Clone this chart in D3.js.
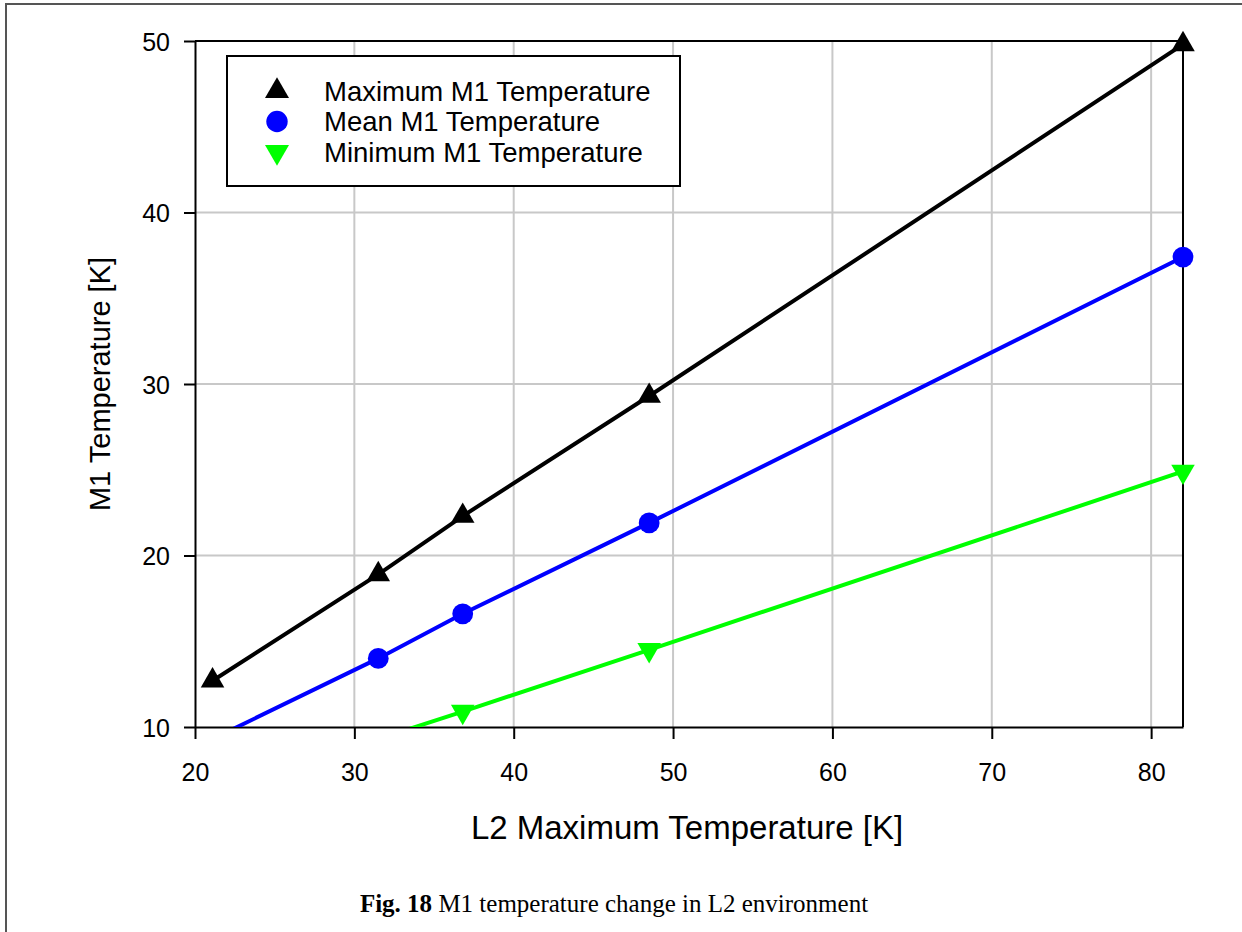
<!DOCTYPE html>
<html>
<head>
<meta charset="utf-8">
<script src="https://cdn.jsdelivr.net/npm/d3@7"></script>
<style>
  body { margin: 0; background: #fff; }
  svg { display: block; font-family: "Liberation Sans", Arial, sans-serif; }
</style>
</head>
<body>
<div id="chart-area"></div>
<script>
// L2 maximum temperature (x) and M1 temperatures (y)
const l2Temps = [21.1, 31.5, 36.8, 48.5, 82];
const maxM1 = [12.7, 18.9, 22.3, 29.3, 49.8];
const meanM1 = [9.3, 14.0, 16.6, 21.9, 37.4];
const minM1 = [6.1, 9.3, 10.9, 14.5, 24.9];

const xTicks = [20, 30, 40, 50, 60, 70, 80];
const yTicks = [10, 20, 30, 40, 50];
const legendLabels = ["Maximum M1 Temperature", "Mean M1 Temperature", "Minimum M1 Temperature"];

const width = 1242, height = 932;
const plot = { left: 195, right: 1183, top: 41, bottom: 727 };

const svg = d3.select("#chart-area")
    .append("svg")
    .attr("width", width)
    .attr("height", height);

// page frame
svg.append("path")
    .attr("d", `M6,${height} L6,4 L${width},4`)
    .attr("fill", "none")
    .attr("stroke", "#555")
    .attr("stroke-width", 2);

const x = d3.scaleLinear().domain([20, 82]).range([plot.left, plot.right]);
const y = d3.scaleLinear().domain([10, 50]).range([plot.bottom, plot.top]);

// grid
svg.append("g").selectAll("line")
    .data(xTicks.filter(d => d > 20))
    .join("line")
    .attr("x1", d => x(d)).attr("x2", d => x(d))
    .attr("y1", plot.top).attr("y2", plot.bottom)
    .attr("stroke", "#c8c8c8").attr("stroke-width", 2);

svg.append("g").selectAll("line")
    .data(yTicks.filter(d => d > 10 && d < 50))
    .join("line")
    .attr("x1", plot.left).attr("x2", plot.right)
    .attr("y1", d => y(d)).attr("y2", d => y(d))
    .attr("stroke", "#c8c8c8").attr("stroke-width", 2);

// axes
const xAxis = svg.append("g")
    .attr("transform", `translate(0,${plot.bottom})`)
    .call(d3.axisBottom(x).tickValues(xTicks).tickSize(12).tickPadding(24).tickSizeOuter(0));
const yAxis = svg.append("g")
    .attr("transform", `translate(${plot.left},0)`)
    .call(d3.axisLeft(y).tickValues(yTicks).tickSize(11).tickPadding(14).tickSizeOuter(0));

[xAxis, yAxis].forEach(a => {
    a.select(".domain").attr("stroke", "#000").attr("stroke-width", 2);
    a.selectAll(".tick line").attr("stroke", "#000").attr("stroke-width", 2);
    a.selectAll(".tick text")
        .attr("font-size", "25px")
        .attr("fill", "#000")
        .attr("font-family", "Liberation Sans, Arial, sans-serif");
});
yAxis.selectAll(".tick text").attr("dy", "0.36em");

// top and right frame of plot
svg.append("path")
    .attr("d", `M${plot.left},${plot.top} L${plot.right},${plot.top} L${plot.right},${plot.bottom}`)
    .attr("fill", "none")
    .attr("stroke", "#000")
    .attr("stroke-width", 2);

// clip for the lines
svg.append("clipPath").attr("id", "plot-clip")
    .append("rect")
    .attr("x", plot.left).attr("y", plot.top)
    .attr("width", plot.right - plot.left)
    .attr("height", plot.bottom - plot.top);

const series = [
    { name: legendLabels[0], values: maxM1, color: "#000000", symbol: d3.symbolTriangle, rotate: 0 },
    { name: legendLabels[1], values: meanM1, color: "#0000ff", symbol: d3.symbolCircle, rotate: 0 },
    { name: legendLabels[2], values: minM1, color: "#00ff00", symbol: d3.symbolTriangle, rotate: 180 }
];

const line = d3.line()
    .x(d => x(d[0]))
    .y(d => y(d[1]));

series.forEach(s => {
    const pts = l2Temps.map((t, i) => [t, s.values[i]]);
    svg.append("path")
        .datum(pts)
        .attr("clip-path", "url(#plot-clip)")
        .attr("d", line)
        .attr("fill", "none")
        .attr("stroke", s.color)
        .attr("stroke-width", 4);

    const sym = d3.symbol().type(s.symbol).size(s.symbol === d3.symbolCircle ? 340 : 240);
    svg.append("g").selectAll("path")
        .data(pts.filter(p => p[1] >= 10 && p[1] <= 50))
        .join("path")
        .attr("d", sym)
        .attr("fill", s.color)
        .attr("transform", p => `translate(${x(p[0])},${y(p[1])}) rotate(${s.rotate})`);
});

// legend
const legend = svg.append("g");
legend.append("rect")
    .attr("x", 227).attr("y", 56)
    .attr("width", 453).attr("height", 130)
    .attr("fill", "#fff")
    .attr("stroke", "#000")
    .attr("stroke-width", 2);

series.forEach((s, i) => {
    const ly = 91 + i * 30.5;
    const sym = d3.symbol().type(s.symbol).size(s.symbol === d3.symbolCircle ? 360 : 250);
    legend.append("path")
        .attr("d", sym)
        .attr("fill", s.color)
        .attr("transform", `translate(277,${ly}) rotate(${s.rotate})`);
    legend.append("text")
        .attr("x", 324).attr("y", ly)
        .attr("dy", "0.36em")
        .attr("font-size", "27.5px")
        .text(s.name);
});

// axis titles
svg.append("text")
    .attr("x", 687)
    .attr("y", 839)
    .attr("text-anchor", "middle")
    .attr("font-size", "33px")
    .text("L2 Maximum Temperature [K]");

svg.append("text")
    .attr("transform", `translate(110,${(plot.top + plot.bottom) / 2}) rotate(-90)`)
    .attr("text-anchor", "middle")
    .attr("font-size", "29px")
    .text("M1 Temperature [K]");

// caption
const cap = svg.append("text")
    .attr("x", 614)
    .attr("y", 912)
    .attr("text-anchor", "middle")
    .attr("font-family", "Liberation Serif, Times New Roman, serif")
    .attr("font-size", "25px");
cap.append("tspan").attr("font-weight", "bold").text("Fig. 18");
cap.append("tspan").text(" M1 temperature change in L2 environment");
</script>
</body>
</html>
